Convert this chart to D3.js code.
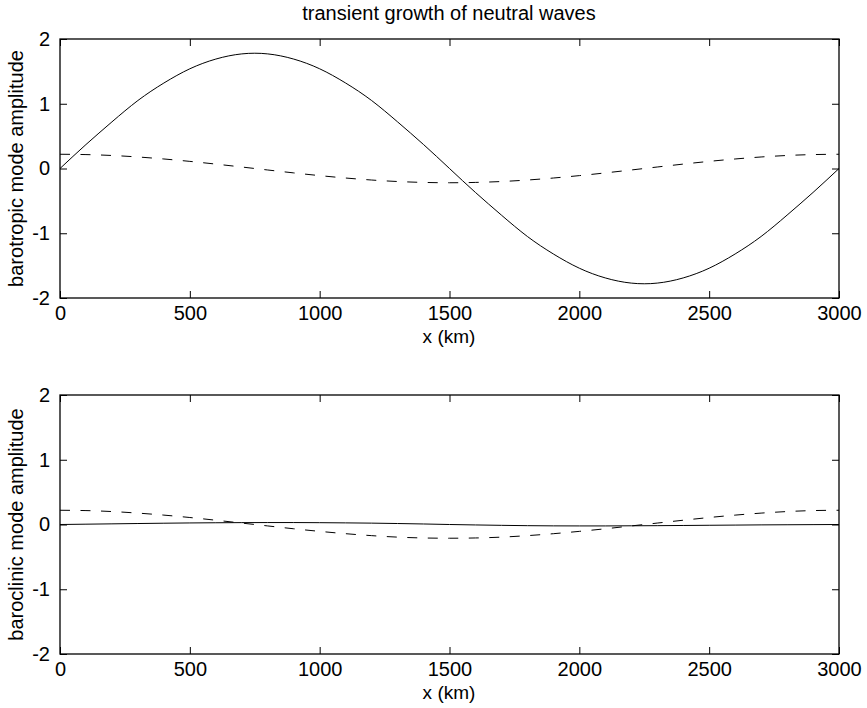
<!DOCTYPE html>
<html>
<head>
<meta charset="utf-8">
<script src="https://cdn.jsdelivr.net/npm/d3@7"></script>
<style>
body { margin: 0; background: #fff; }
svg { display: block; font-family: "Liberation Sans", Arial, sans-serif; }
</style>
</head>
<body>
<svg></svg>
<script>
var screen = {width: 867, height: 708};

// x positions in km, one value every 100 km
var xKm = d3.range(0, 3001, 100);
var xTicks = [0, 500, 1000, 1500, 2000, 2500, 3000];
var yTicks = [-2, -1, 0, 1, 2];

var barotropicSolid = [0, 0.37, 0.72, 1.05, 1.32, 1.54, 1.69, 1.77, 1.77, 1.69, 1.54, 1.32, 1.05, 0.72, 0.37, 0,
    -0.37, -0.72, -1.05, -1.32, -1.54, -1.69, -1.77, -1.77, -1.69, -1.54, -1.32, -1.05, -0.72, -0.37, 0];
var barotropicDashed = [0.22, 0.215, 0.201, 0.178, 0.147, 0.11, 0.068, 0.023, -0.023, -0.068, -0.11, -0.147, -0.178, -0.201, -0.215, -0.22,
    -0.215, -0.201, -0.178, -0.147, -0.11, -0.068, -0.023, 0.023, 0.068, 0.11, 0.147, 0.178, 0.201, 0.215, 0.22];
var baroclinicSolid = [0, 0.005, 0.01, 0.015, 0.02, 0.024, 0.027, 0.029, 0.03, 0.03, 0.028, 0.025, 0.021, 0.015, 0.008, 0,
    -0.007, -0.013, -0.018, -0.021, -0.022, -0.022, -0.02, -0.018, -0.015, -0.012, -0.009, -0.006, -0.004, -0.002, 0];
var baroclinicDashed = [0.22, 0.215, 0.2, 0.176, 0.145, 0.108, 0.066, 0.022, -0.022, -0.066, -0.106, -0.142, -0.172, -0.195, -0.208, -0.212,
    -0.208, -0.195, -0.172, -0.142, -0.106, -0.066, -0.022, 0.022, 0.066, 0.108, 0.145, 0.176, 0.2, 0.215, 0.22];

var fontSize = "20px";

var svg = d3.select("svg")
    .attr("width", screen.width)
    .attr("height", screen.height);

svg.append("text")
    .attr("x", 449)
    .attr("y", 20)
    .attr("text-anchor", "middle")
    .style("font-size", fontSize)
    .text("transient growth of neutral waves");

var panel = function(top, bottom, solid, dashed, ylabel)
{
    var xScale = d3.scaleLinear().domain([0, 3000]).range([60, 839]);
    var yScale = d3.scaleLinear().domain([-2, 2]).range([bottom, top]);
    var g = svg.append("g");
    var plain = function(d){return String(d);};

    var tick = 7;
    var xb = g.append("g").attr("transform", "translate(0," + bottom + ")")
        .call(d3.axisBottom(xScale).tickValues(xTicks).tickSizeInner(-tick).tickSizeOuter(0).tickPadding(8).tickFormat(plain));
    var xt = g.append("g").attr("transform", "translate(0," + top + ")")
        .call(d3.axisTop(xScale).tickValues(xTicks).tickSizeInner(-tick).tickSizeOuter(0).tickFormat(""));
    var yl = g.append("g").attr("transform", "translate(60,0)")
        .call(d3.axisLeft(yScale).tickValues(yTicks).tickSizeInner(-tick).tickSizeOuter(0).tickPadding(10).tickFormat(plain));
    var yr = g.append("g").attr("transform", "translate(839,0)")
        .call(d3.axisRight(yScale).tickValues(yTicks).tickSizeInner(-tick).tickSizeOuter(0).tickFormat(""));

    [xb, xt, yl, yr].forEach(function(a)
    {
        a.select(".domain").remove();
        a.selectAll("line").attr("stroke", "#000");
        a.selectAll("text")
            .attr("fill", "#000")
            .style("font-size", fontSize)
            .style("font-family", "\"Liberation Sans\", Arial, sans-serif");
    });

    g.append("rect")
        .attr("x", 60)
        .attr("y", top)
        .attr("width", 779)
        .attr("height", bottom - top)
        .attr("fill", "none")
        .attr("stroke", "#000")
        .attr("stroke-width", 1.3);

    var line = d3.line()
        .x(function(d, i){return xScale(xKm[i]);})
        .y(function(d){return yScale(d);})
        .curve(d3.curveNatural);

    g.append("path")
        .datum(dashed)
        .attr("d", line)
        .attr("fill", "none")
        .attr("stroke", "#000")
        .attr("stroke-dasharray", "10,10.5");

    g.append("path")
        .datum(solid)
        .attr("d", line)
        .attr("fill", "none")
        .attr("stroke", "#000");

    g.append("text")
        .attr("x", 449)
        .attr("y", bottom + 45)
        .attr("text-anchor", "middle")
        .style("font-size", "19px")
        .text("x (km)");

    g.append("text")
        .attr("transform", "translate(23," + ((top + bottom) / 2) + ") rotate(-90)")
        .attr("text-anchor", "middle")
        .style("font-size", fontSize)
        .text(ylabel);
};

panel(39, 298, barotropicSolid, barotropicDashed, "barotropic mode amplitude");
panel(395, 654, baroclinicSolid, baroclinicDashed, "baroclinic mode amplitude");
</script>
</body>
</html>
